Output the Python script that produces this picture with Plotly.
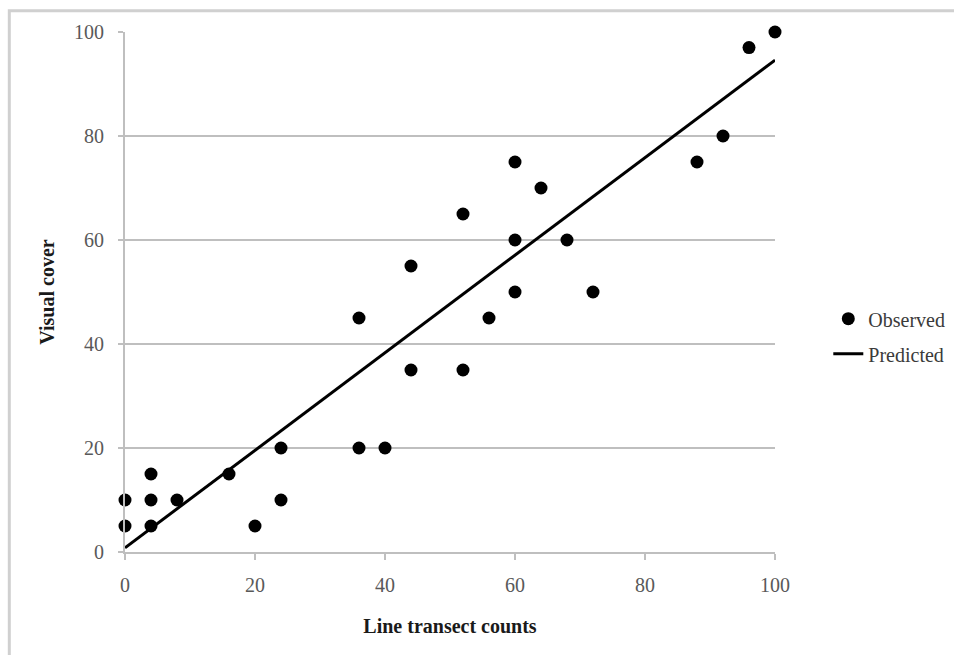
import plotly.graph_objects as go

# Observed pairs: line transect counts vs. visual cover estimates
line_counts = [0, 0, 4, 4, 4, 8, 16, 20, 24, 24, 36, 36, 40, 44, 44, 52, 52, 56,
               60, 60, 60, 64, 68, 72, 88, 92, 96, 100]
visual_cover = [10, 5, 15, 10, 5, 10, 15, 5, 20, 10, 45, 20, 20, 55, 35, 65, 35, 45,
                75, 60, 50, 70, 60, 50, 75, 80, 97, 100]

# Fitted regression line end points
pred_x = [0, 100]
pred_y = [0.8, 94.6]

x_ticks = [0, 20, 40, 60, 80, 100]
y_ticks = [0, 20, 40, 60, 80, 100]

serif = "Liberation Serif, Times New Roman, serif"
grey_line = "#bfbfbf"

fig = go.Figure()
fig.add_trace(go.Scatter(
    x=pred_x, y=pred_y, mode="lines", name="Predicted",
    line=dict(color="black", width=3), legendgroup="b", legendrank=2,
))
fig.add_trace(go.Scatter(
    x=line_counts, y=visual_cover, mode="markers", name="Observed",
    marker=dict(color="black", size=13), legendgroup="a", legendrank=1,
    cliponaxis=False,
))

fig.update_layout(
    width=954, height=655,
    margin=dict(l=125, r=179, t=32, b=103, autoexpand=False),
    paper_bgcolor="white", plot_bgcolor="white",
    font=dict(family=serif, size=20, color="#595959"),
    showlegend=True,
    legend=dict(
        x=1.082, y=0.415, xanchor="left", yanchor="middle",
        font=dict(family=serif, size=20, color="#3a3a3a"),
        tracegroupgap=6, traceorder="grouped",
        bgcolor="rgba(0,0,0,0)",
    ),
    shapes=[dict(
        type="rect", xref="paper", yref="paper",
        x0=-0.178, x1=1.6, y0=-0.6, y1=1.041,
        line=dict(color="#d0d0d0", width=3), layer="below",
    )],
)

fig.update_xaxes(
    range=[0, 100], tickvals=x_ticks, showgrid=False, zeroline=False,
    showline=True, linecolor=grey_line, linewidth=2, automargin=False,
    ticks="outside", ticklen=6, tickcolor=grey_line, tickwidth=1.5,
    ticklabelstandoff=8,
    title=dict(text="<b>Line transect counts</b>", font=dict(family=serif, size=20, color="#1a1a1a"),
               standoff=24),
)
fig.update_yaxes(
    range=[0, 100], tickvals=y_ticks, showgrid=True, gridcolor=grey_line, gridwidth=1.5,
    zeroline=False, showline=True, linecolor=grey_line, linewidth=2, automargin=False,
    ticks="outside", ticklen=5, tickcolor=grey_line, tickwidth=1.5,
    ticklabelstandoff=10,
    title=dict(text="<b>Visual cover</b>", font=dict(family=serif, size=20, color="#1a1a1a"),
               standoff=14),
)

fig.write_html("out.html")
